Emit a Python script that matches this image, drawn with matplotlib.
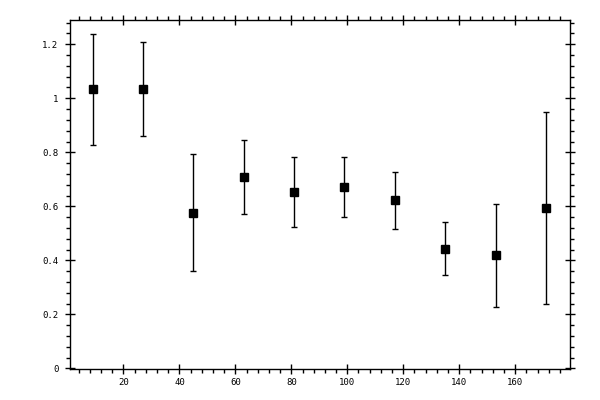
import matplotlib
matplotlib.use("Agg")
import matplotlib.pyplot as plt
from matplotlib.ticker import MultipleLocator, FormatStrFormatter, FuncFormatter

x_vals = [9, 27, 45, 63, 81, 99, 117, 135, 153, 171]
y_vals = [1.033, 1.033, 0.577, 0.708, 0.652, 0.670, 0.622, 0.444, 0.419, 0.593]
y_err = [0.206, 0.174, 0.217, 0.137, 0.130, 0.111, 0.104, 0.097, 0.190, 0.356]
x_ticks = [20, 40, 60, 80, 100, 120, 140, 160]
y_ticks = [0, 0.2, 0.4, 0.6, 0.8, 1.0, 1.2]

fig = plt.figure(figsize=(6, 4), dpi=100)
ax = fig.add_axes([0.1162, 0.0768, 0.8343, 0.874])

ax.errorbar(x_vals, y_vals, yerr=y_err, fmt='s', color='black',
            markersize=5.2, elinewidth=1.0, capsize=2.0, capthick=1.0,
            ecolor='black')

ax.set_xlim(0.8, 179.7)
ax.set_ylim(-0.003, 1.291)
ax.set_xticks(x_ticks)
ax.set_yticks(y_ticks)
ax.xaxis.set_minor_locator(MultipleLocator(4))
ax.yaxis.set_minor_locator(MultipleLocator(0.04))

def yfmt(v, pos):
    if abs(v) < 1e-9:
        return '0'
    if abs(v - round(v)) < 1e-9:
        return '%d' % round(v)
    return ('%.1f' % v)

ax.yaxis.set_major_formatter(FuncFormatter(yfmt))
ax.xaxis.set_major_formatter(FormatStrFormatter('%d'))

for s in ax.spines.values():
    s.set_linewidth(1.0)

ax.tick_params(which='major', direction='inout', length=6.5, width=1.0,
               top=True, right=True, labelsize=6.5, pad=3)
ax.tick_params(which='minor', direction='out', length=2.6, width=1.0,
               top=True, right=True)
ax.tick_params(axis='y', which='major', pad=5)
for lab in ax.get_xticklabels() + ax.get_yticklabels():
    lab.set_family('DejaVu Sans Mono')

fig.savefig('out.png', dpi=100)
